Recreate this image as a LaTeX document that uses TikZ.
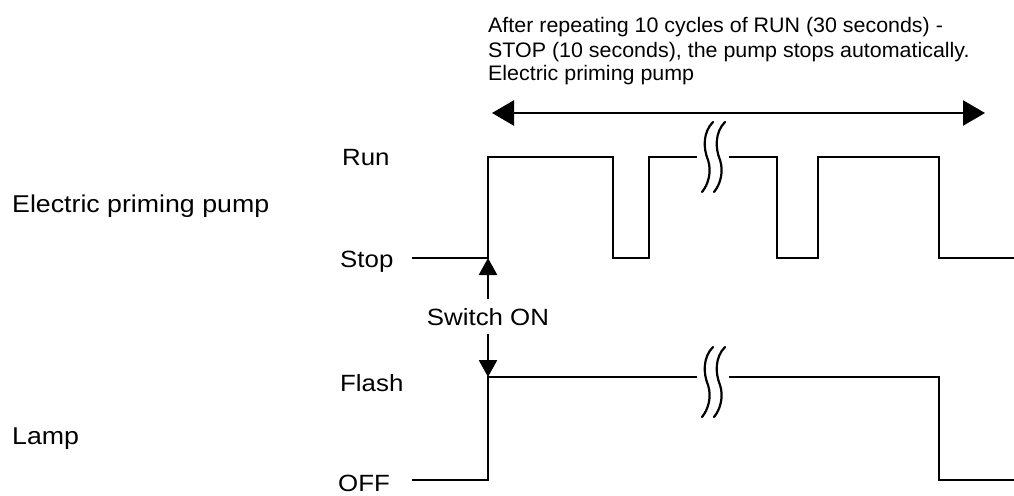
\documentclass[tikz,border=0pt]{standalone}
\usepackage{fontspec}
\setmainfont{Liberation Sans}[FakeStretch=1.1]
\newfontfamily\plainfont{Liberation Sans}[FakeStretch=1.02]
\usetikzlibrary{arrows.meta}
\tikzset{
  wave/.style={line width=2.5pt, line join=miter},
  lbl/.style={anchor=base west, inner sep=0pt, font=\fontsize{23.5}{24}\selectfont},
  biglbl/.style={anchor=base west, inner sep=0pt, font=\fontsize{24.3}{24}\selectfont},
  toplbl/.style={anchor=base west, inner sep=0pt, font=\plainfont\fontsize{21}{24}\selectfont},
  brk/.style={line width=2.2pt, line cap=round},
  bigarrow/.style={line width=2.5pt, {Triangle[length=22pt,width=25pt]}-{Triangle[length=22pt,width=25pt]}},
  swarrow/.style={line width=2.5pt, -{Triangle[length=17pt,width=18pt]}}
}
\newcommand{\brkmark}[2]{%
  \draw[brk] (#1,#2) .. controls (#1-10,#2+10) and (#1-10,#2+26) .. (#1-5,#2+38) .. controls (#1-1,#2+50) and (#1-5,#2+63) .. (#1-11,#2+70);
  \draw[brk] (#1+12,#2) .. controls (#1+2,#2+10) and (#1+2,#2+26) .. (#1+7,#2+38) .. controls (#1+11,#2+50) and (#1+7,#2+63) .. (#1+1,#2+70);
}
\begin{document}
\begin{tikzpicture}[x=1pt,y=-1pt]
\useasboundingbox (0,0) rectangle (1014,495);
% labels
\node[toplbl] (t1) at (488,33) {After repeating 10 cycles of RUN (30 seconds) -};
\node[toplbl] (t2) at (488,57) {STOP (10 seconds), the pump stops automatically.};
\node[toplbl] (t3) at (488,81) {Electric priming pump};
\node[biglbl] (epp) at (12,212) {Electric priming pump};
\node[biglbl] (lamp) at (12,444) {Lamp};
\node[lbl] (run) at (342,165) {Run};
\node[lbl] (stop) at (340,267) {Stop};
\node[lbl] (flash) at (340,391) {Flash};
\node[lbl] (off) at (338,491) {OFF};
% coordinates
\coordinate (la) at (492,113);
\coordinate (ra) at (985,113);
\coordinate (pon) at (488,258);
\coordinate (lon) at (488,377);
% double arrow
\draw[bigarrow] (la) -- (ra);
% pump waveform
\draw[wave] (412,258) -- (pon) -- (488,157) -- (613,157) -- (613,258) -- (649,258) -- (649,157) -- (697,157);
\draw[wave] (729,157) -- (777,157) -- (777,258) -- (818,258) -- (818,157) -- (939,157) -- (939,258) -- (1014,258);
% lamp waveform
\draw[wave] (412,480) -- (488,480) -- (lon) -- (697,377);
\draw[wave] (729,377) -- (939,377) -- (939,480) -- (1014,480);
% breaks
\brkmark{713}{122}
\brkmark{713}{347}
% switch on
\node[anchor=base, inner xsep=0pt, inner ysep=8.5pt, text height=17.5pt, text depth=0pt, font=\fontsize{23.5}{24}\selectfont] (sw) at (488,325) {Switch ON};
\draw[swarrow] (sw.north) -- (pon);
\draw[swarrow] (sw.south) -- (lon);
\end{tikzpicture}
\end{document}
